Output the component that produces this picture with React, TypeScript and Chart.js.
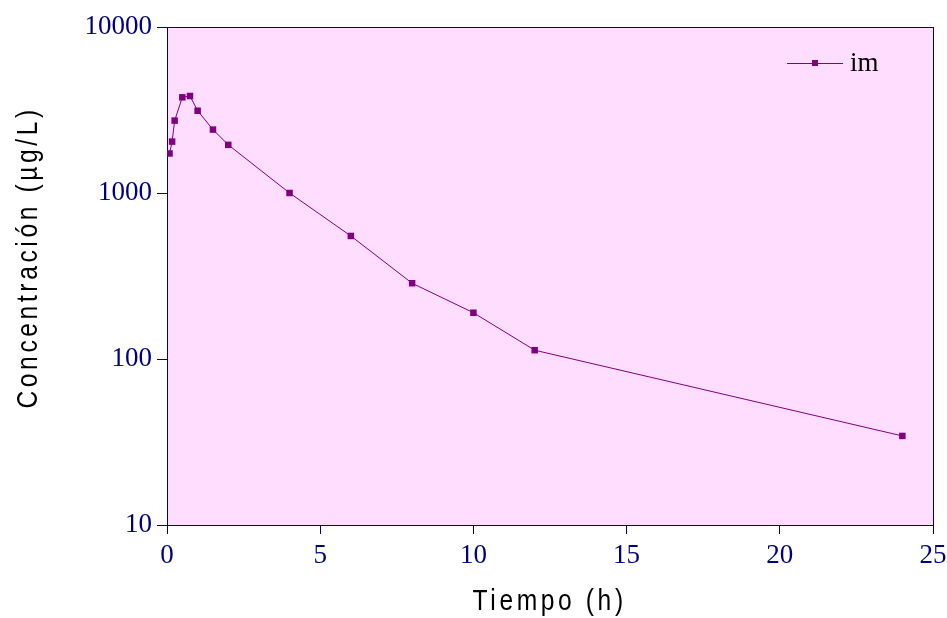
import React, { useEffect, useRef } from "react";
import { Chart, registerables } from "chart.js";

Chart.register(...registerables);

const times = [0.083, 0.167, 0.25, 0.5, 0.75, 1, 1.5, 2, 4, 6, 8, 10, 12, 24];
const concentrations = [1730, 2040, 2730, 3770, 3840, 3130, 2410, 1950, 1000, 551, 286, 190, 113, 34.4];
const seriesLabel = "im";
const yTicks = [10, 100, 1000, 10000];
const xTitle = "Tiempo (h)";
const yTitle = "Concentración (µg/L)";

const NAVY = "#000080";
const PURPLE = "#800080";
const BG = "#FFDDFF";
const TITLE_FONT = '30px "Liberation Sans", Arial, sans-serif';
const TICK_FONT = '"Liberation Serif", "Times New Roman", serif';

function narrowText(ctx: any, text: string, x: number, y: number, rotate: boolean) {
  ctx.save();
  ctx.translate(x, y);
  if (rotate) ctx.rotate(-Math.PI / 2);
  ctx.scale(0.82, 1);
  ctx.font = TITLE_FONT;
  ctx.letterSpacing = "4.4px";
  ctx.fillStyle = "#000";
  ctx.textAlign = "center";
  ctx.textBaseline = "alphabetic";
  ctx.fillText(text, 2, 0);
  ctx.restore();
}

const decorPlugin = {
  id: "decor",
  beforeDatasetsDraw(chart: any) {
    const { ctx, chartArea: a } = chart;
    ctx.save();
    ctx.fillStyle = BG;
    ctx.fillRect(a.left, a.top, a.right - a.left, a.bottom - a.top);
    ctx.strokeStyle = NAVY;
    ctx.lineWidth = 1;
    ctx.strokeRect(Math.round(a.left) + 0.5, Math.round(a.top) + 0.5, Math.round(a.right - a.left), Math.round(a.bottom - a.top));
    ctx.restore();
  },
  afterDraw(chart: any) {
    const { ctx, chartArea: a } = chart;
    narrowText(ctx, xTitle, 548, 610, false);
    narrowText(ctx, yTitle, 37, 259, true);

    // legend
    ctx.save();
    const ly = 63;
    const lx0 = a.right - 146;
    const lx1 = a.right - 90;
    ctx.strokeStyle = PURPLE;
    ctx.lineWidth = 1;
    ctx.beginPath();
    ctx.moveTo(lx0, ly + 0.5);
    ctx.lineTo(lx1, ly + 0.5);
    ctx.stroke();
    ctx.fillStyle = PURPLE;
    ctx.fillRect((lx0 + lx1) / 2 - 3, ly - 3, 6, 6);
    ctx.fillStyle = "#000";
    ctx.font = '27px ' + TICK_FONT;
    ctx.textAlign = "left";
    ctx.textBaseline = "middle";
    ctx.fillText(chart.data.datasets[0].label, lx1 + 7, ly + 1);
    ctx.restore();
  },
};

export default function App() {
  const ref = useRef<HTMLCanvasElement | null>(null);

  useEffect(() => {
    document.body.style.margin = "0";
    const canvas = ref.current!;
    const chart = new Chart(canvas, {
      type: "line",
      data: {
        datasets: [
          {
            label: seriesLabel,
            data: times.map((t, i) => ({ x: t, y: concentrations[i] })),
            borderColor: PURPLE,
            backgroundColor: PURPLE,
            borderWidth: 1,
            pointStyle: "rect",
            pointRadius: 4.6,
            pointBorderWidth: 0,
            pointHoverRadius: 4.6,
            tension: 0,
          },
        ],
      },
      options: {
        animation: false,
        responsive: false,
        maintainAspectRatio: false,
        layout: { padding: { top: 27, right: 14, left: 0, bottom: 0 } },
        plugins: {
          legend: { display: false },
          tooltip: { enabled: false },
          title: { display: false },
        },
        scales: {
          x: {
            type: "linear",
            min: 0,
            max: 25,
            ticks: {
              stepSize: 5,
              color: NAVY,
              font: { family: TICK_FONT, size: 27 },
              padding: 6,
              maxRotation: 0,
            },
            grid: { drawOnChartArea: false, tickLength: 9, color: NAVY, tickColor: NAVY },
            border: { display: true, color: NAVY },
            afterFit(scale: any) {
              scale.height = 93;
              scale.paddingLeft = 0;
              scale.paddingRight = 0;
            },
          },
          y: {
            type: "logarithmic",
            min: 10,
            max: 10000,
            afterBuildTicks(scale: any) {
              scale.ticks = yTicks.map((v) => ({ value: v }));
            },
            ticks: {
              color: NAVY,
              font: { family: TICK_FONT, size: 27 },
              padding: 5,
              callback: (v: any) => String(v),
            },
            grid: { drawOnChartArea: false, tickLength: 10, color: NAVY, tickColor: NAVY },
            border: { display: true, color: NAVY },
            afterFit(scale: any) {
              scale.width = 167;
              scale.paddingTop = 0;
              scale.paddingBottom = 0;
            },
          },
        },
      },
      plugins: [decorPlugin],
    });
    return () => chart.destroy();
  }, []);

  return (
    <div style={{ width: 947, height: 618 }}>
      <canvas ref={ref} width={947} height={618} style={{ display: "block" }} />
    </div>
  );
}
